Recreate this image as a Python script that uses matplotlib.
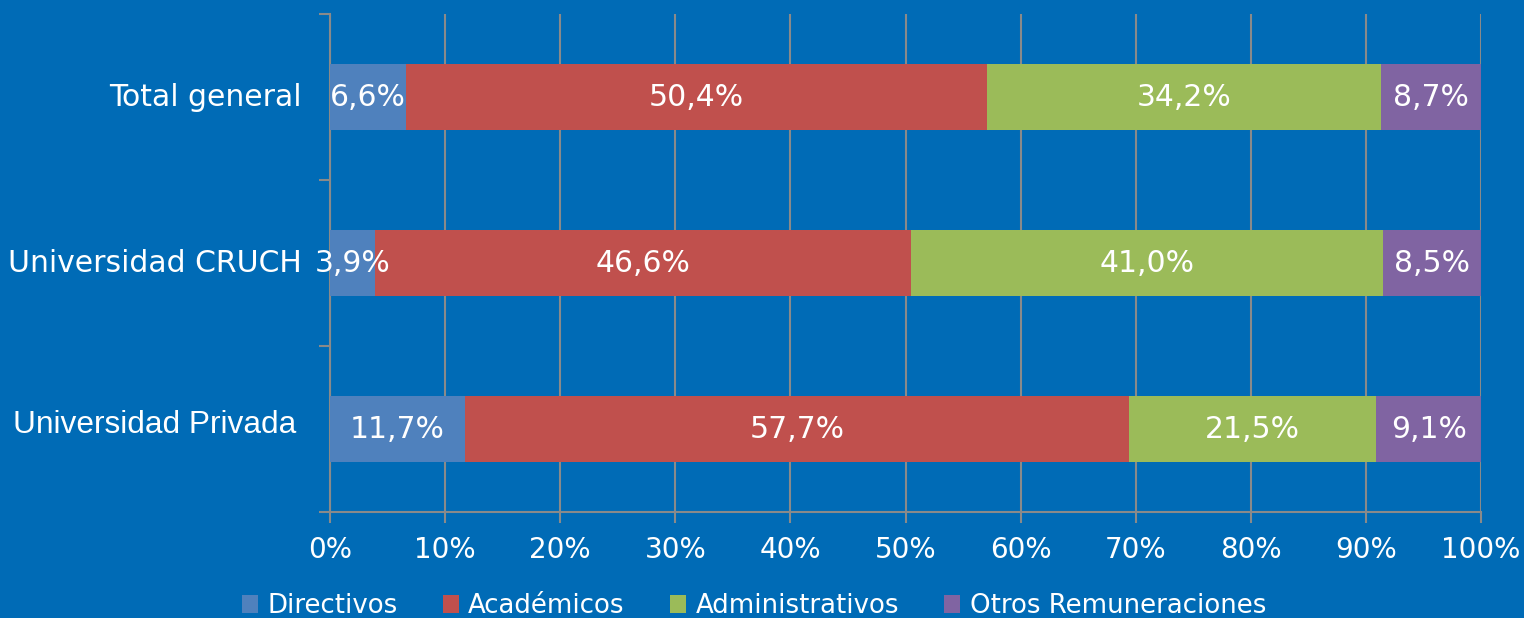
import matplotlib
matplotlib.use("Agg")
import matplotlib.pyplot as plt
import matplotlib.transforms as mtransforms
import numpy as np
from matplotlib.patches import Patch

categories = ["Total general", "Universidad CRUCH", "Universidad Privada"]
series_names = ["Directivos", "Académicos", "Administrativos", "Otros Remuneraciones"]
directivos = [6.6, 3.9, 11.7]
academicos = [50.4, 46.6, 57.7]
administrativos = [34.2, 41.0, 21.5]
otros = [8.7, 8.5, 9.1]
xtick_labels = ["0%", "10%", "20%", "30%", "40%", "50%", "60%", "70%", "80%", "90%", "100%"]

colors = ["#4F81BD", "#C0504D", "#9BBB59", "#8064A2"]
bg = "#006BB6"
grid_c = "#8A8A8A"

data = np.array([directivos, academicos, administrativos, otros], dtype=float)
totals = data.sum(axis=0)
shares = data / totals

fig = plt.figure(figsize=(15.24, 6.18), dpi=100, facecolor=bg)
ax = fig.add_axes([330/1524, 1-512/618, (1481-330)/1524, (512-14)/618])
ax.set_facecolor(bg)

y = np.arange(len(categories))[::-1]  # top to bottom
left = np.zeros(len(categories))
for i, name in enumerate(series_names):
    ax.barh(y, shares[i], left=left, height=0.4, color=colors[i], zorder=3)
    for j in range(len(categories)):
        ax.text(left[j] + shares[i][j] / 2, y[j], f"{data[i][j]:.1f}%".replace(".", ","),
                ha="center", va="center", color="white", fontsize=21.5,
                family="DejaVu Sans", zorder=4)
    left += shares[i]

ax.set_xlim(0, 1)
ax.set_ylim(-0.5, 2.5)
ax.set_xticks(np.linspace(0, 1, 11))
ax.set_xticklabels(xtick_labels, color="white", fontsize=20, family="DejaVu Sans")
ax.tick_params(axis="x", length=8, width=1.5, color=grid_c, pad=9)
ax.grid(axis="x", color=grid_c, linewidth=1.5, zorder=1)

# category labels (Privada label is in a different font in the original)
ax.set_yticks(y)
ax.set_yticklabels([])
ax.tick_params(axis="y", which="major", length=0)
ylab_trans = mtransforms.blended_transform_factory(ax.transAxes, ax.transData)
for cat, yy in zip(categories, y):
    if cat == "Universidad Privada":
        off = mtransforms.ScaledTranslation(-34 / 100, 4 / 100, fig.dpi_scale_trans)
        ax.text(0, yy, cat, transform=ylab_trans + off, ha="right", va="center",
                color="white", fontsize=22.8, family="Liberation Sans")
    else:
        off = mtransforms.ScaledTranslation(-28 / 100, 0, fig.dpi_scale_trans)
        ax.text(0, yy, cat, transform=ylab_trans + off, ha="right", va="center",
                color="white", fontsize=21.5, family="DejaVu Sans")
ax.set_yticks([-0.5, 0.5, 1.5, 2.5], minor=True)
ax.tick_params(axis="y", which="minor", length=8, width=1.5, color=grid_c)

for s in ["top", "right"]:
    ax.spines[s].set_visible(False)
for s in ["left", "bottom"]:
    ax.spines[s].set_color(grid_c)
    ax.spines[s].set_linewidth(1.5)

handles = [Patch(facecolor=c, edgecolor="none") for c in colors]
leg = fig.legend(handles, series_names, loc="center", bbox_to_anchor=(0.4948, 1 - 606/618),
                 ncol=4, frameon=False, handlelength=0.62, handleheight=0.7,
                 handletextpad=0.35, columnspacing=1.75, borderaxespad=0, borderpad=0,
                 prop={"family": "DejaVu Sans", "size": 18.7})
for t in leg.get_texts():
    t.set_color("white")

fig.savefig("out.png", dpi=100, facecolor=bg)
